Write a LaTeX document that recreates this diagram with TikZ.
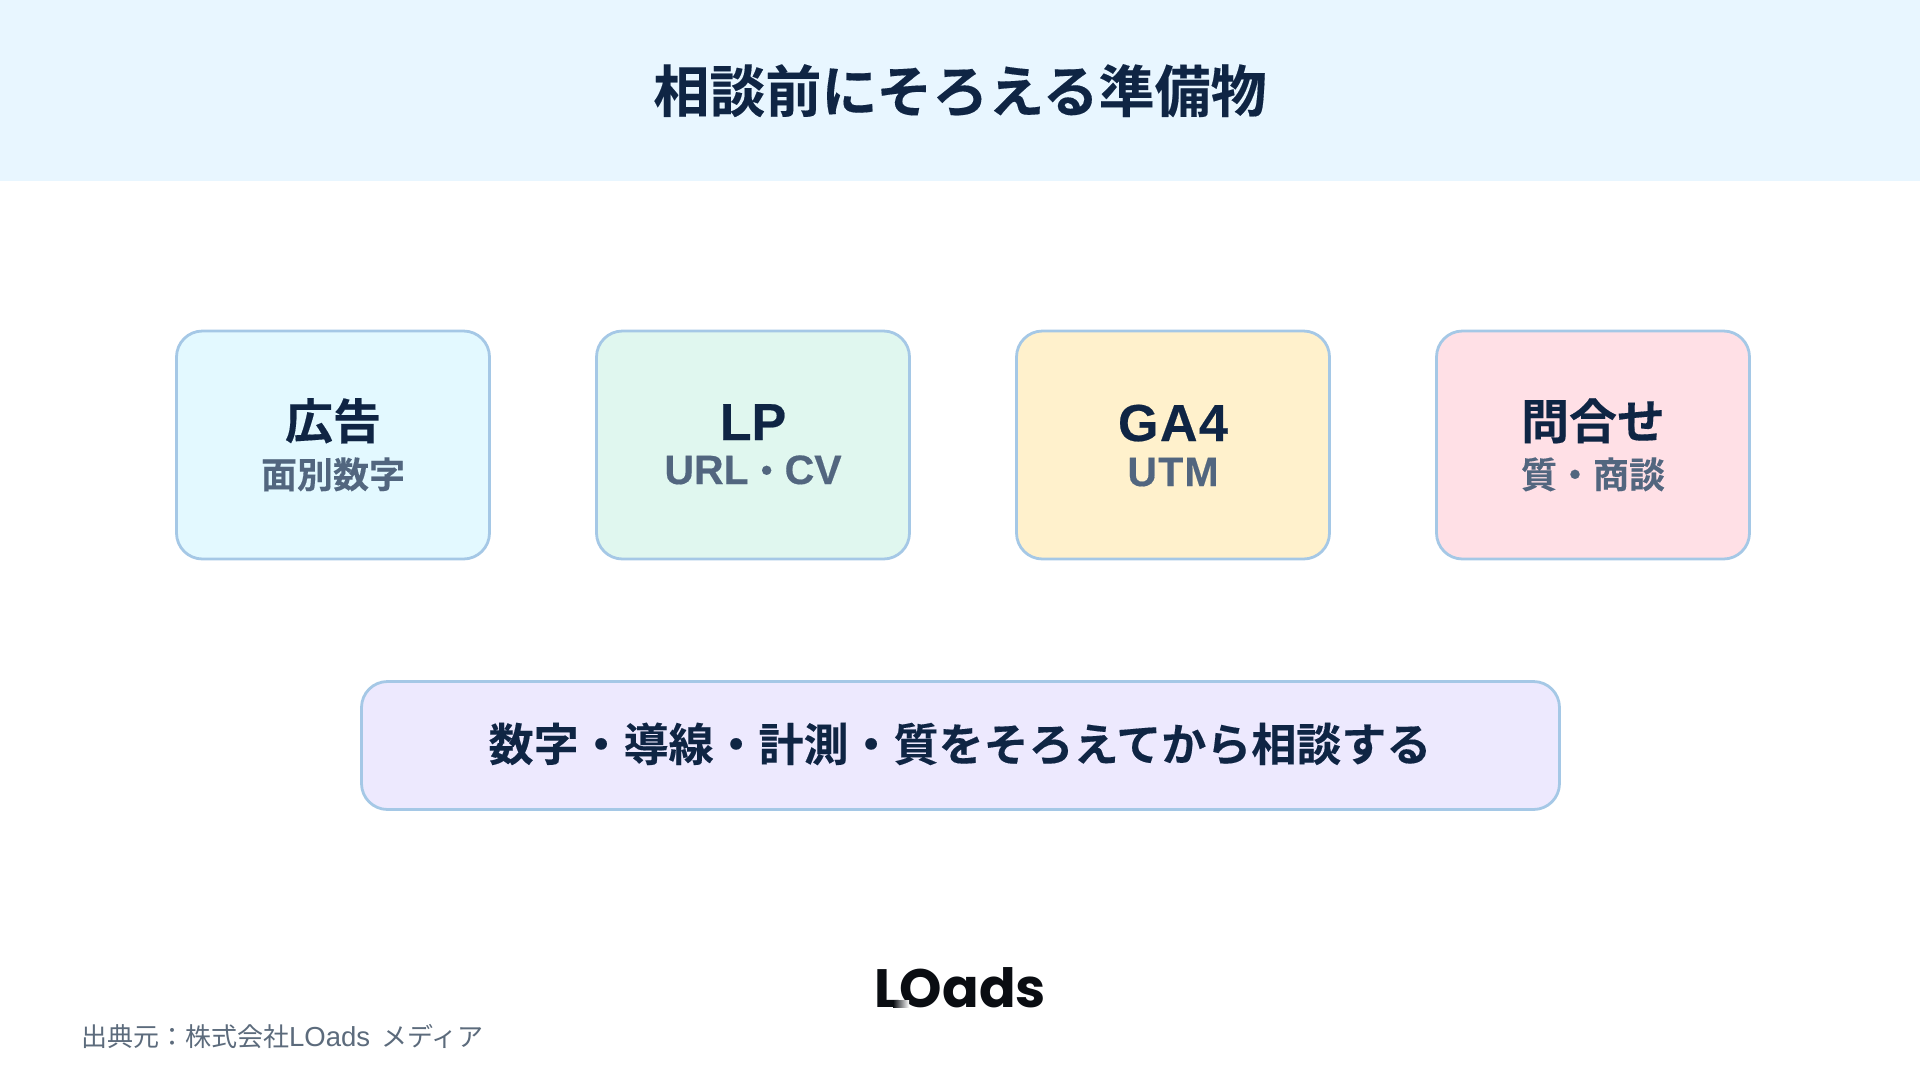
\documentclass[tikz,border=0pt]{standalone}
\usepackage{fontspec}
\setmainfont{Noto Sans CJK JP}
\newfontfamily\cjkb[FakeBold=0.25]{Noto Sans CJK JP Bold}
\newfontfamily\logofont{Poppins Bold}
\newfontfamily\latb[FakeBold=0.4]{Liberation Sans Bold}
\newfontfamily\latbw[LetterSpace=3,FakeBold=0.4]{Liberation Sans Bold}
\newfontfamily\latr{Liberation Sans}
\definecolor{hdr}{HTML}{E8F6FF}
\definecolor{ink}{HTML}{0F2544}
\definecolor{subink}{HTML}{52667F}
\definecolor{foot}{HTML}{5C6B7C}
\definecolor{edge}{HTML}{A5C8E6}
\definecolor{fa}{HTML}{E3F9FF}
\definecolor{fb}{HTML}{E0F7EF}
\definecolor{fc}{HTML}{FFF1CC}
\definecolor{fd}{HTML}{FFE0E6}
\definecolor{fe}{HTML}{EDE9FE}
\definecolor{logoink}{HTML}{0A0D12}
\newcommand{\bigsz}{\fontsize{52}{52}\selectfont}
\newcommand{\subsz}{\fontsize{41}{41}\selectfont}
\tikzset{
  card/.style={draw=edge,line width=2.8pt,rounded corners=26pt,minimum width=313pt,minimum height=228pt,inner sep=0pt},
  banner/.style={draw=edge,line width=2.8pt,rounded corners=26pt,minimum width=1198pt,minimum height=128pt,inner sep=0pt},
  cardtitle/.style={anchor=base,inner sep=0pt,text=ink,font=\cjkb\fontsize{48}{48}\selectfont},
  cardsub/.style={anchor=base,inner sep=0pt,text=subink,font=\cjkb\fontsize{36}{36}\selectfont},
}
\begin{document}
\begin{tikzpicture}[x=1pt,y=-1pt]
\useasboundingbox (0,0) rectangle (1920,1080);
\fill[white] (0,0) rectangle (1920,1080);
\fill[hdr] (0,0) rectangle (1920,181);
\node[anchor=base,inner sep=0pt,text=ink,font=\cjkb\fontsize{56}{56}\selectfont] (title) at (960,112) {相談前にそろえる準備物};
\node[card,fill=fa] (c1) at (333,445) {};
\node[card,fill=fb] (c2) at (753,445) {};
\node[card,fill=fc] (c3) at (1173,445) {};
\node[card,fill=fd] (c4) at (1593,445) {};
\node[cardtitle] (t1) at (333,439) {広告};
\node[cardsub] (s1) at (333,488) {面別数字};
\node[cardtitle] (t2) at (753,440) {\latb\bigsz LP};
\node[cardsub] (s2) at (753,484) {{\latb\subsz URL}・{\latb\subsz CV}};
\node[cardtitle] (t3) at (1173,441) {\latbw\bigsz GA4};
\node[cardsub] (s3) at (1173,486) {\latbw\subsz UTM};
\node[cardtitle] (t4) at (1593,439) {問合せ};
\node[cardsub] (s4) at (1593,488) {質・商談};
\node[banner,fill=fe] (b) at (960.5,745.5) {};
\node[anchor=base,inner sep=0pt,text=ink,font=\cjkb\fontsize{45}{45}\selectfont] (bt) at (960,761) {数字・導線・計測・質をそろえてから相談する};
\node[anchor=base,inner sep=0pt,text=logoink,font=\logofont\fontsize{54}{54}\selectfont] (logo) at (960,1007) {LOads};
\shade[left color=logoink,right color=white] (893,1000) rectangle (909,1007.5);
\node[anchor=base west,inner sep=0pt,text=foot,font=\fontsize{26}{26}\selectfont] (src) at (81,1046) {出典元：株式会社{\latr\fontsize{27.5}{27.5}\selectfont LOads}\hspace{11pt}メディア};
\end{tikzpicture}
\end{document}
